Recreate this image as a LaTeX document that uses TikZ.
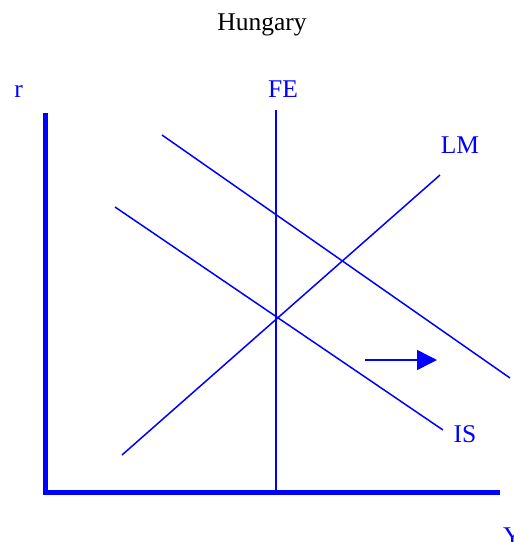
\documentclass[tikz,border=0pt]{standalone}
\usepackage{fontspec}
\setmainfont{Liberation Serif}
\usetikzlibrary{arrows.meta}
\begin{document}
\begin{tikzpicture}[x=1pt,y=-1pt,
  curve/.style={draw=blue,line width=1.5pt},
  axis/.style={draw=blue,line width=5pt},
  lbl/.style={text=blue,font=\fontsize{25.5}{28}\selectfont,inner sep=0pt,anchor=base}]
\useasboundingbox (0,0) rectangle (514,542);
\node[lbl,text=black] (title) at (262,30) {Hungary};
\node[lbl] (rlab) at (18.5,97) {r};
\node[lbl] (felab) at (283,97) {FE};
\node[lbl] (lmlab) at (460,153) {LM};
\node[lbl] (islab) at (465,442) {IS};
\node[lbl,anchor=base west] (ylab) at (503,544) {Y};
\coordinate (ytop) at (45,113);
\coordinate (orig) at (45,492);
\coordinate (xend) at (500,492);
\draw[axis] (ytop) -- (orig) -- (xend);
\coordinate (fe1) at (276,110);
\coordinate (fe2) at (276,490);
\draw[curve] (fe1) -- (fe2);
\coordinate (lm1) at (122,455);
\coordinate (lm2) at (440,175);
\draw[curve] (lm1) -- (lm2);
\coordinate (is1) at (115,207);
\coordinate (is2) at (443,430);
\draw[curve] (is1) -- (is2);
\coordinate (isb1) at (162,135);
\coordinate (isb2) at (510,378);
\draw[curve] (isb1) -- (isb2);
\coordinate (ar1) at (365,360);
\coordinate (ar2) at (437,360);
\draw[curve,-{Triangle[length=20pt,width=20pt]}] (ar1) -- (ar2);
\end{tikzpicture}
\end{document}
